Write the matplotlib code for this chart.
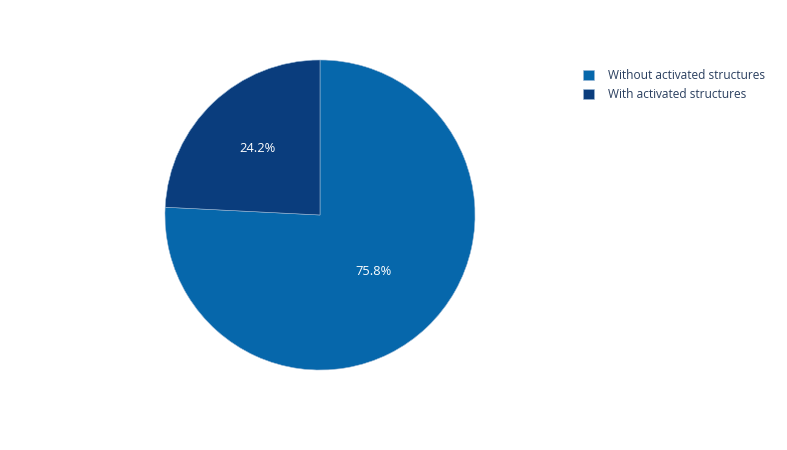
import matplotlib.pyplot as plt

labels = ['Without activated structures', 'With activated structures']
values = [75.8, 24.2]
colors = ['#0667ab', '#0a3d7d']

plt.rcParams['font.family'] = ['Open Sans', 'DejaVu Sans']

fig = plt.figure(figsize=(7.87, 4.5), dpi=100)
cx, cy, r = 320, 215, 155
ax = fig.add_axes([(cx - r) / 787, (450 - cy - r) / 450, 2 * r / 787, 2 * r / 450])

wedges, texts, autotexts = ax.pie(values, colors=colors, startangle=90, counterclock=False,
                                  autopct='%.1f%%', pctdistance=0.55,
                                  wedgeprops=dict(linewidth=0.4, edgecolor='#9ab8d6'),
                                  textprops=dict(color='white', fontsize=9.3))
# plotly-like inside text placement: smaller slice sits a bit further out
for t, d in zip(autotexts, [0.50, 0.59]):
    x, y = t.get_position()
    t.set_position((x * d / 0.55, y * d / 0.55))

ax.set_xlim(-1, 1)
ax.set_ylim(-1, 1)
ax.set_aspect('equal')

fig.legend(wedges, labels, loc='upper left', bbox_to_anchor=(572 / 787, 1 - 58 / 450),
           frameon=False, fontsize=8.6, labelcolor='#2a3f5f',
           handlelength=0.9, handleheight=0.9, handletextpad=1.2, labelspacing=0.5)

fig.savefig('out.png', dpi=100)
